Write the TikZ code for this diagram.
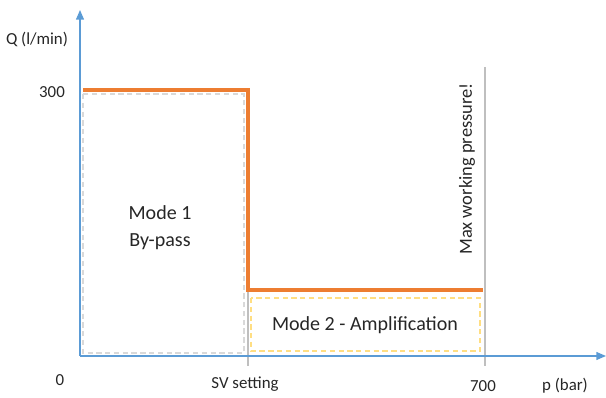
\documentclass[tikz,border=0pt]{standalone}
\usepackage{fontspec}
\setmainfont{Carlito}
\usepackage{xcolor}
\usetikzlibrary{arrows.meta}

\definecolor{axisblue}{RGB}{91,155,213}
\definecolor{curveorange}{RGB}{237,125,49}
\definecolor{linegray}{RGB}{191,191,191}
\definecolor{boxgray}{RGB}{217,217,217}
\definecolor{boxgold}{RGB}{255,222,130}

\tikzset{
  axislabel/.style={font=\fontsize{9.6}{11}\selectfont, text=black!85},
  modelabel/.style={font=\fontsize{11.4}{15.3}\selectfont, text=black!85, align=center},
  modebox/.style={line width=0.7pt, dash pattern=on 3pt off 2pt}
}

\begin{document}
\begin{tikzpicture}[x=0.02cm,y=-0.02cm]
\useasboundingbox (0,0) rectangle (606,398);
% mode regions
\draw[modebox,boxgray] (83,94) rectangle (244,353);
\draw[modebox,boxgold] (251,298) rectangle (480,351);
% reference lines
\draw[linegray,line width=0.6pt] (248,290) -- (248,366);
\draw[linegray,line width=0.6pt] (485,67) -- (485,366);
% axes
\draw[axisblue,line width=0.8pt,-{Triangle[length=5.5pt,width=4.5pt]}] (80,356) -- (80,10);
\draw[axisblue,line width=0.8pt,-{Triangle[length=5.5pt,width=4.5pt]}] (80,356) -- (606,356);
% flow curve
\draw[curveorange,line width=2.3pt] (83,90) -- (248,90) -- (248,290) -- (483,290);
% labels
\node[axislabel] (qlabel) at (37,40) {Q (l/min)};
\node[axislabel] (qmax) at (52,92) {300};
\node[axislabel] (origin) at (60,380) {0};
\node[axislabel] (svset) at (245,384) {SV setting};
\node[axislabel] (pmax) at (483,386) {700};
\node[axislabel] (plabel) at (565,386) {p (bar)};
\node[modelabel] (modeone) at (160,228) {Mode 1\\By-pass};
\node[modelabel] (modetwo) at (365,325) {Mode 2 - Amplification};
\node[axislabel,font=\fontsize{10.5}{12}\selectfont,rotate=90] (maxp) at (467,169) {Max working pressure!};
\end{tikzpicture}
\end{document}
